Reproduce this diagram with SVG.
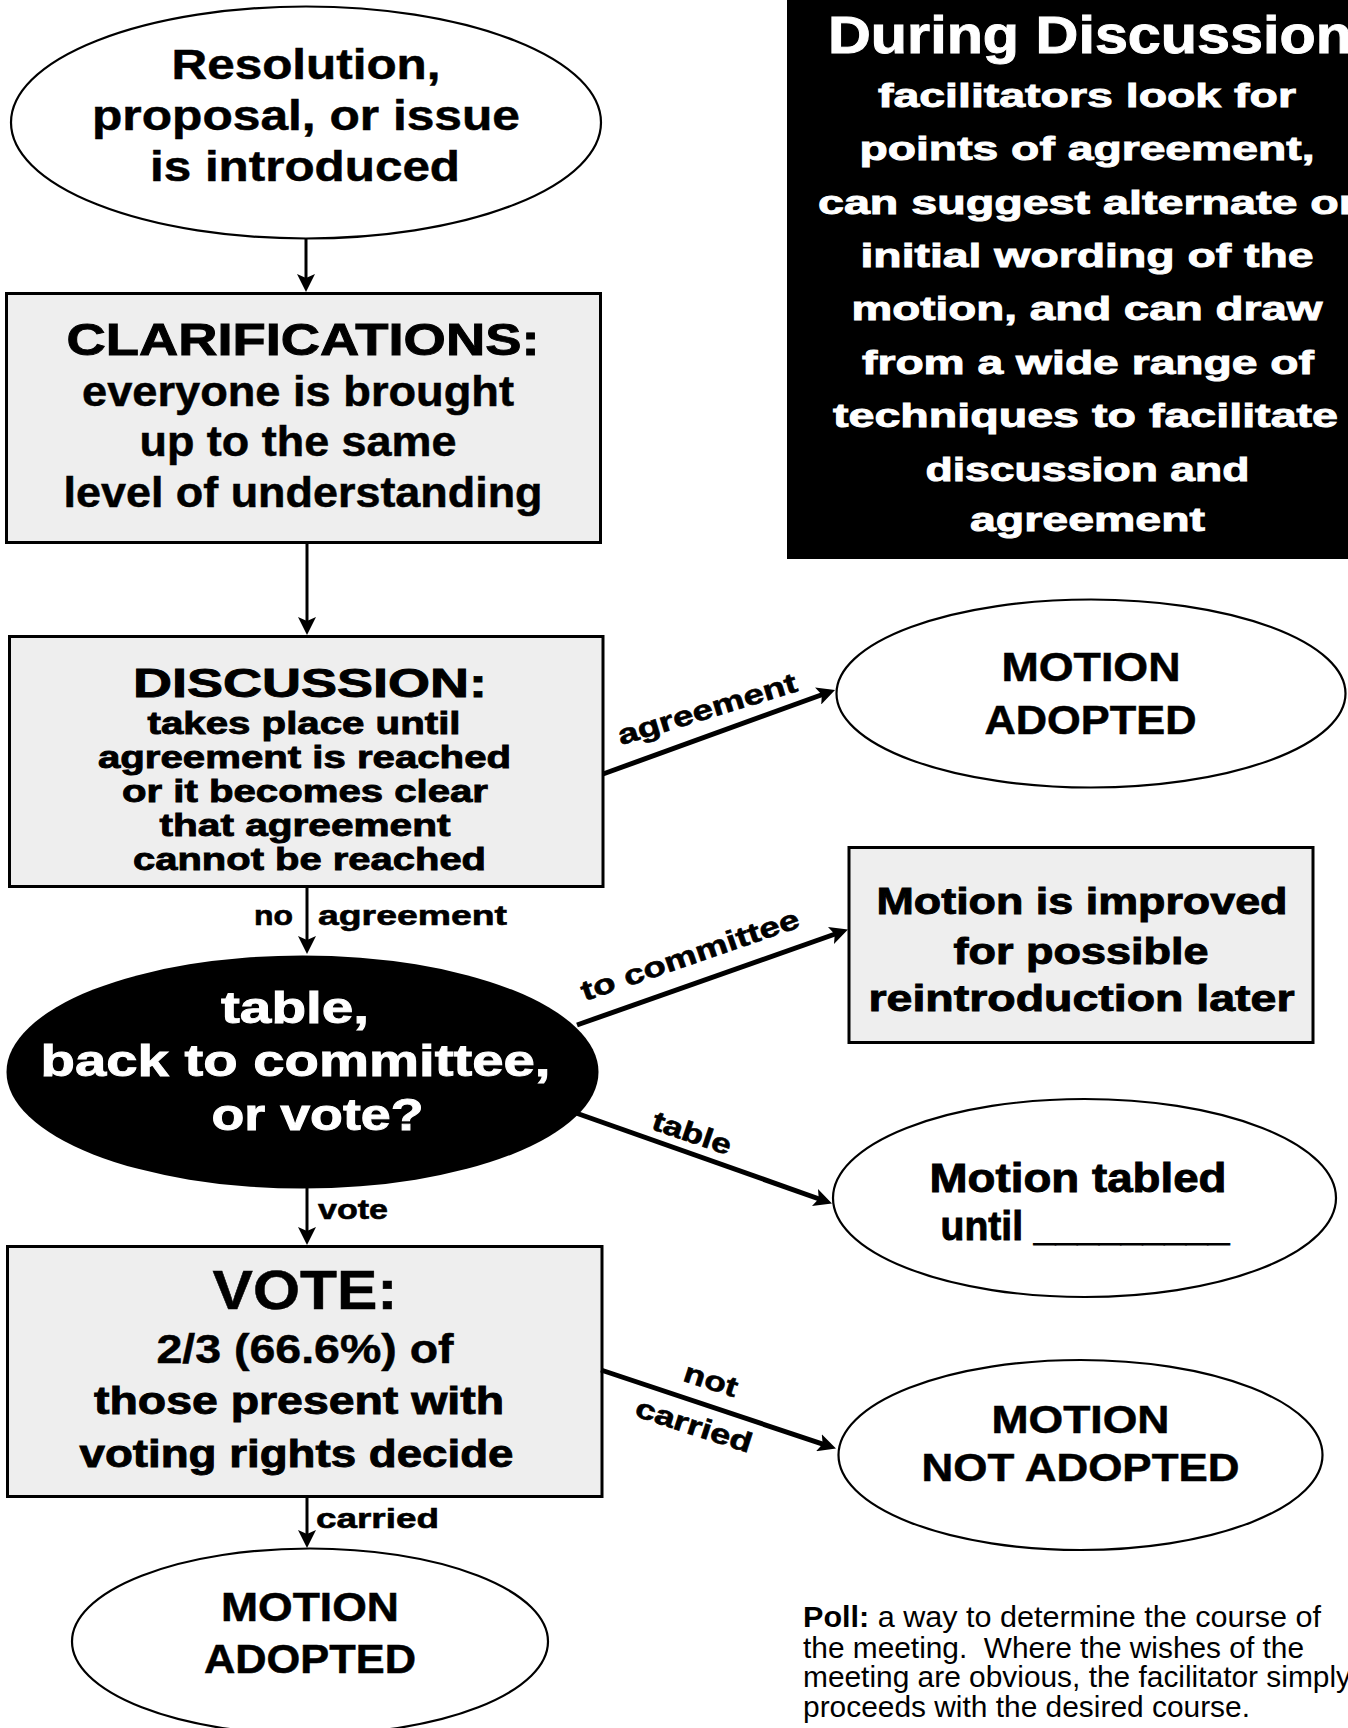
<svg xmlns="http://www.w3.org/2000/svg" width="1348" height="1728" viewBox="0 0 1348 1728">
<style>
text{font-family:"Liberation Sans",Arial,sans-serif;font-weight:bold;fill:#000;text-anchor:middle;stroke:#000;stroke-width:0.5}
.box{fill:#eeeeee;stroke:#000;stroke-width:3}
.ell{fill:#fff;stroke:#000;stroke-width:2.2}
.ext{stroke:#000;stroke-width:0.9}
.w{fill:#fff;stroke:#fff;stroke-width:0.9}
.lbl{font-size:28px;stroke:#000;stroke-width:0.6}
.st{text-anchor:start}
.conn line{stroke:#000}
.v{stroke-width:3}
.d{stroke-width:5}
.poll{font-weight:normal;font-size:29px;text-anchor:start;stroke:none}
</style>
<defs>
<marker id="ah" viewBox="0 0 18 18" refX="12" refY="9" markerWidth="18" markerHeight="18" markerUnits="userSpaceOnUse" orient="auto">
<path d="M0,0 L18,9 L0,18 L4,9 z" fill="#000"/>
</marker>
</defs>

<g id="info">
<rect x="787" y="0" width="561" height="559" fill="#000"/>
<text class="w st" x="828" y="53" font-size="51" textLength="524" lengthAdjust="spacingAndGlyphs">During Discussion</text>
<text class="w" x="1087" y="106.5" font-size="33" textLength="418" lengthAdjust="spacingAndGlyphs">facilitators look for</text>
<text class="w" x="1087" y="160" font-size="33" textLength="455" lengthAdjust="spacingAndGlyphs">points of agreement,</text>
<text class="w st" x="818" y="213.5" font-size="33" textLength="539" lengthAdjust="spacingAndGlyphs">can suggest alternate or</text>
<text class="w" x="1087" y="267" font-size="33" textLength="453" lengthAdjust="spacingAndGlyphs">initial wording of the</text>
<text class="w" x="1087" y="320" font-size="33" textLength="471" lengthAdjust="spacingAndGlyphs">motion, and can draw</text>
<text class="w" x="1088" y="373.5" font-size="33" textLength="452" lengthAdjust="spacingAndGlyphs">from a wide range of</text>
<text class="w" x="1085.5" y="427" font-size="33" textLength="505" lengthAdjust="spacingAndGlyphs">techniques to facilitate</text>
<text class="w" x="1087.5" y="480.5" font-size="33" textLength="324" lengthAdjust="spacingAndGlyphs">discussion and</text>
<text class="w" x="1087.5" y="531" font-size="33" textLength="235" lengthAdjust="spacingAndGlyphs">agreement</text>
</g>

<g id="start">
<ellipse class="ell" cx="306" cy="122.5" rx="295" ry="116"/>
<text x="306" y="79" font-size="43" textLength="269" lengthAdjust="spacingAndGlyphs">Resolution,</text>
<text x="306" y="129.5" font-size="43" textLength="428" lengthAdjust="spacingAndGlyphs">proposal, or issue</text>
<text x="305" y="180.5" font-size="43" textLength="310" lengthAdjust="spacingAndGlyphs">is introduced</text>
</g>

<g id="clarifications">
<rect class="box" x="6.5" y="293.5" width="594" height="249"/>
<text class="ext" x="303" y="355" font-size="44" textLength="473" lengthAdjust="spacingAndGlyphs">CLARIFICATIONS:</text>
<text x="298" y="405.5" font-size="42" textLength="432" lengthAdjust="spacingAndGlyphs">everyone is brought</text>
<text x="298" y="455.5" font-size="42" textLength="317" lengthAdjust="spacingAndGlyphs">up to the same</text>
<text x="303" y="507" font-size="42" textLength="479" lengthAdjust="spacingAndGlyphs">level of understanding</text>
</g>

<g id="discussion">
<rect class="box" x="9.5" y="636.5" width="593.5" height="250"/>
<text class="ext" x="310" y="697" font-size="41" textLength="354" lengthAdjust="spacingAndGlyphs">DISCUSSION:</text>
<text class="ext" x="304" y="734" font-size="32" textLength="313" lengthAdjust="spacingAndGlyphs">takes place until</text>
<text class="ext" x="304.5" y="768" font-size="32" textLength="413" lengthAdjust="spacingAndGlyphs">agreement is reached</text>
<text class="ext" x="305" y="802" font-size="32" textLength="366" lengthAdjust="spacingAndGlyphs">or it becomes clear</text>
<text class="ext" x="305" y="836" font-size="32" textLength="291" lengthAdjust="spacingAndGlyphs">that agreement</text>
<text class="ext" x="309.5" y="870" font-size="32" textLength="353" lengthAdjust="spacingAndGlyphs">cannot be reached</text>
</g>

<g id="decision">
<ellipse cx="302.5" cy="1072" rx="296" ry="116.5" fill="#000"/>
<text class="w" x="295" y="1022.5" font-size="44" textLength="148" lengthAdjust="spacingAndGlyphs">table,</text>
<text class="w" x="295.5" y="1076" font-size="44" textLength="510" lengthAdjust="spacingAndGlyphs">back to committee,</text>
<text class="w" x="317.5" y="1129.5" font-size="44" textLength="212" lengthAdjust="spacingAndGlyphs">or vote?</text>
</g>

<g id="vote">
<rect class="box" x="7.5" y="1246.5" width="594.5" height="250"/>
<text x="305" y="1308.5" font-size="55" textLength="185" lengthAdjust="spacingAndGlyphs">VOTE:</text>
<text x="305" y="1362.5" font-size="40" textLength="297" lengthAdjust="spacingAndGlyphs">2/3 (66.6%) of</text>
<text class="ext" x="299" y="1413.5" font-size="38" textLength="410" lengthAdjust="spacingAndGlyphs">those present with</text>
<text class="ext" x="296.5" y="1466.5" font-size="38" textLength="434" lengthAdjust="spacingAndGlyphs">voting rights decide</text>
</g>

<g id="adopted-bottom">
<ellipse class="ell" cx="310" cy="1641.5" rx="238" ry="93"/>
<text x="310" y="1620.5" font-size="40" textLength="178" lengthAdjust="spacingAndGlyphs">MOTION</text>
<text x="310" y="1673" font-size="40" textLength="212" lengthAdjust="spacingAndGlyphs">ADOPTED</text>
</g>

<g id="adopted-top">
<ellipse class="ell" cx="1091" cy="693.5" rx="254.5" ry="94"/>
<text x="1091" y="680.5" font-size="40" textLength="179" lengthAdjust="spacingAndGlyphs">MOTION</text>
<text x="1090.5" y="734" font-size="40" textLength="212" lengthAdjust="spacingAndGlyphs">ADOPTED</text>
</g>

<g id="improved">
<rect class="box" x="849" y="847.5" width="464" height="195"/>
<text class="ext" x="1082" y="914" font-size="36" textLength="411" lengthAdjust="spacingAndGlyphs">Motion is improved</text>
<text class="ext" x="1081" y="963.5" font-size="36" textLength="255" lengthAdjust="spacingAndGlyphs">for possible</text>
<text class="ext" x="1081.5" y="1011" font-size="36" textLength="426" lengthAdjust="spacingAndGlyphs">reintroduction later</text>
</g>

<g id="tabled">
<ellipse class="ell" cx="1084.5" cy="1198" rx="251.5" ry="99"/>
<text class="ext" x="1078" y="1191.5" font-size="40" textLength="297" lengthAdjust="spacingAndGlyphs">Motion tabled</text>
<text class="ext st" x="940.5" y="1239.5" font-size="40" textLength="289" lengthAdjust="spacingAndGlyphs">until _________</text>
</g>

<g id="not-adopted">
<ellipse class="ell" cx="1080.5" cy="1455" rx="242" ry="95"/>
<text x="1080.5" y="1432.5" font-size="39" textLength="178" lengthAdjust="spacingAndGlyphs">MOTION</text>
<text x="1080.5" y="1480.5" font-size="39" textLength="318" lengthAdjust="spacingAndGlyphs">NOT ADOPTED</text>
</g>

<g id="poll">
<text class="poll" x="803" y="1626.5" textLength="518" lengthAdjust="spacingAndGlyphs"><tspan font-weight="bold">Poll:</tspan> a way to determine the course of</text>
<text class="poll" x="803" y="1657.5" textLength="501" lengthAdjust="spacingAndGlyphs" xml:space="preserve">the meeting.  Where the wishes of the</text>
<text class="poll" x="803" y="1687" textLength="548" lengthAdjust="spacingAndGlyphs">meeting are obvious, the facilitator simply</text>
<text class="poll" x="803" y="1716.5" textLength="447" lengthAdjust="spacingAndGlyphs">proceeds with the desired course.</text>
</g>

<g id="connectors" class="conn">
<line class="v" x1="306" y1="239" x2="306" y2="286" marker-end="url(#ah)"/>
<line class="v" x1="307" y1="543" x2="307" y2="629" marker-end="url(#ah)"/>
<line class="v" x1="307" y1="887" x2="307" y2="948" marker-end="url(#ah)"/>
<line class="v" x1="307" y1="1188" x2="307" y2="1239" marker-end="url(#ah)"/>
<line class="v" x1="307" y1="1497" x2="307" y2="1542" marker-end="url(#ah)"/>
<line class="d" x1="603" y1="774" x2="829.4" y2="692" marker-end="url(#ah)"/>
<line class="d" x1="577" y1="1025" x2="842.3" y2="931.5" marker-end="url(#ah)"/>
<line class="d" x1="576" y1="1113" x2="826.3" y2="1201.5" marker-end="url(#ah)"/>
<line class="d" x1="601" y1="1370" x2="830.3" y2="1446.6" marker-end="url(#ah)"/>
<text class="lbl st" x="254" y="925" textLength="39" lengthAdjust="spacingAndGlyphs">no</text>
<text class="lbl st" x="318" y="925" textLength="189" lengthAdjust="spacingAndGlyphs">agreement</text>
<text class="lbl st" x="318" y="1218.5" textLength="70" lengthAdjust="spacingAndGlyphs">vote</text>
<text class="lbl st" x="316" y="1528" textLength="123" lengthAdjust="spacingAndGlyphs">carried</text>
<text class="lbl" transform="translate(710,718) rotate(-17)" textLength="186" lengthAdjust="spacingAndGlyphs">agreement</text>
<text class="lbl" transform="translate(693,964) rotate(-19)" textLength="229" lengthAdjust="spacingAndGlyphs">to committee</text>
<text class="lbl" transform="translate(689,1142) rotate(19)" textLength="82" lengthAdjust="spacingAndGlyphs">table</text>
<text class="lbl" transform="translate(708,1389) rotate(18)" textLength="55" lengthAdjust="spacingAndGlyphs">not</text>
<text class="lbl" transform="translate(691,1434.5) rotate(18)" textLength="121" lengthAdjust="spacingAndGlyphs">carried</text>
</g>
</svg>
